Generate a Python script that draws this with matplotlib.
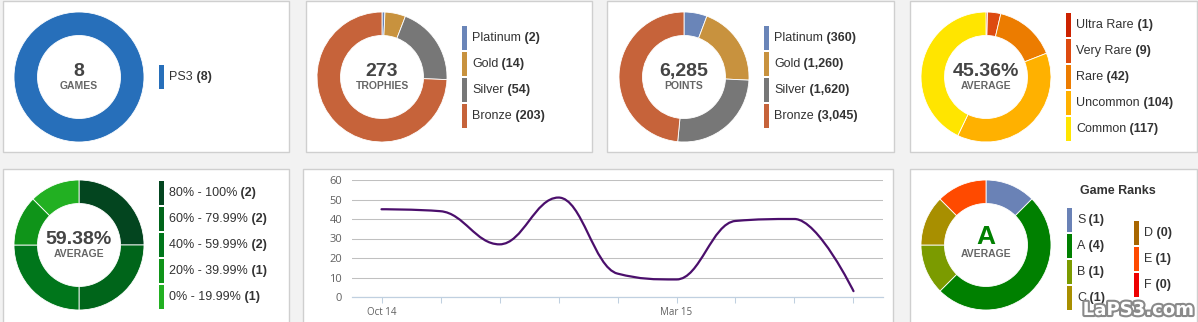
import matplotlib
matplotlib.use("Agg")
import matplotlib.pyplot as plt
from matplotlib.patches import Rectangle, PathPatch
from matplotlib.path import Path
import matplotlib.patheffects as pe

# Data
games_labels = ["PS3"]
games_counts = [8]

trophy_labels = ["Platinum", "Gold", "Silver", "Bronze"]
trophy_counts = [2, 14, 54, 203]
trophy_points = [360, 1260, 1620, 3045]

rarity_labels = ["Ultra Rare", "Very Rare", "Rare", "Uncommon", "Common"]
rarity_counts = [1, 9, 42, 104, 117]
rarity_average = "45.36%"

completion_labels = ["80% - 100%", "60% - 79.99%", "40% - 59.99%", "20% - 39.99%", "0% - 19.99%"]
completion_counts = [2, 2, 2, 1, 1]
completion_average = "59.38%"

rank_labels = ["S", "A", "B", "C", "D", "E", "F"]
rank_counts = [1, 4, 1, 1, 0, 1, 0]
rank_average = "A"

months = ["Oct 14", "Nov 14", "Dec 14", "Jan 15", "Feb 15", "Mar 15", "Apr 15", "May 15", "Jun 15"]
monthly_activity = [45, 44, 27, 51, 12, 9, 39, 40, 3]
shown_months = ["Oct 14", "Mar 15"]

# Colours
games_colors = ["#276fba"]
trophy_colors = ["#6a85b8", "#c8923e", "#777777", "#c6633a"]
rarity_colors = ["#cc2200", "#dd4a10", "#ec7c00", "#ffb100", "#ffe500"]
completion_colors = ["#03451f", "#00651a", "#00761b", "#0f9419", "#22b022"]
rank_colors = ["#6a82b6", "#008000", "#7b9b00", "#a88f00", "#a86600", "#ff4a00", "#ee0000"]

plt.rcParams["font.family"] = ["Liberation Sans", "DejaVu Sans"]

W, H = 1198, 322
fig = plt.figure(figsize=(W / 100, H / 100), dpi=100)
fig.patch.set_facecolor("#f2f2f2")


def rect(x, y, w, h):
    return [x / W, 1 - (y + h) / H, w / W, h / H]


# background layer in pixel coordinates
bg = fig.add_axes([0, 0, 1, 1])
bg.set_xlim(0, W)
bg.set_ylim(H, 0)
bg.axis("off")

panels = [(3, 1, 289, 152), (306, 1, 592, 152), (607, 1, 894, 152), (910, 1, 1197, 152),
          (3, 169, 289, 330), (303, 169, 893, 330), (910, 169, 1197, 330)]
for x0, y0, x1, y1 in panels:
    bg.add_patch(Rectangle((x0 + 1, y0 + 1), x1 - x0, y1 - y0, facecolor="#e4e4e4", edgecolor="none"))
    bg.add_patch(Rectangle((x0, y0), x1 - x0, y1 - y0, facecolor="white", edgecolor="#cfcfcf", lw=1))

R_OUT, R_IN = 65, 41.5


def donut(cx, cy, values, colors, big, small, big_color="#444444", big_size=14, big_dy=-6):
    ax = fig.add_axes(rect(cx - R_OUT, cy - R_OUT, 2 * R_OUT, 2 * R_OUT))
    vals = [v for v in values if v > 0]
    cols = [c for v, c in zip(values, colors) if v > 0]
    ax.pie(vals, colors=cols, startangle=90, counterclock=False, radius=1,
           wedgeprops=dict(width=1 - R_IN / R_OUT, edgecolor="white", linewidth=0.6))
    ax.set_xlim(-1, 1)
    ax.set_ylim(-1, 1)
    ax.axis("off")
    bg.text(cx, cy + big_dy, big, ha="center", va="center", fontsize=big_size,
            fontweight="bold", color=big_color)
    bg.text(cx, cy + 9, small, ha="center", va="center", fontsize=7.5,
            fontweight="bold", color="#666666")


def legend_item(x, y, color, label, count):
    bg.add_patch(Rectangle((x, y), 5, 24, facecolor=color, edgecolor="none"))
    t = bg.text(x + 10, y + 12, label, ha="left", va="center", fontsize=9, color="#333333")
    bg.annotate(" (%s)" % count, xy=(1, 0), xycoords=t, ha="left", va="bottom",
                fontsize=9, fontweight="bold", color="#333333")


def legend(cx, cy, labels, counts, colors):
    n = len(labels)
    top = cy - (n * 26 - 2) / 2
    for i, (lab, c, col) in enumerate(zip(labels, counts, colors)):
        legend_item(cx + 80, top + i * 26, col, lab, "{:,}".format(c))


# Row 1
donut(79, 77, games_counts, games_colors, str(sum(games_counts)), "GAMES")
legend(79, 77, games_labels, games_counts, games_colors)

donut(382, 77, trophy_counts, trophy_colors, str(sum(trophy_counts)), "TROPHIES")
legend(382, 77, trophy_labels, trophy_counts, trophy_colors)

donut(684, 77, trophy_points, trophy_colors, "{:,}".format(sum(trophy_points)), "POINTS")
legend(684, 77, trophy_labels, trophy_points, trophy_colors)

donut(986, 77, rarity_counts, rarity_colors, rarity_average, "AVERAGE")
legend(986, 77, rarity_labels, rarity_counts, rarity_colors)

# Row 2
donut(79, 245, completion_counts, completion_colors, completion_average, "AVERAGE")
legend(79, 245, completion_labels, completion_counts, completion_colors)

donut(986, 245, rank_counts, rank_colors, rank_average, "AVERAGE",
      big_color="#008000", big_size=19, big_dy=-8)
bg.text(1118, 191, "Game Ranks", ha="center", va="center", fontsize=9,
        fontweight="bold", color="#333333")
for i in range(len(rank_labels)):
    if i < 4:
        x, y = 1067, 208 + i * 26
    else:
        x, y = 1134, 221 + (i - 4) * 26
    legend_item(x, y, rank_colors[i], rank_labels[i], rank_counts[i])

# Monthly activity line chart
ax = fig.add_axes(rect(352, 180, 531, 117))
ax.set_xlim(-0.5, len(months) - 0.5)
ax.set_ylim(0, 60)
ax.set_yticks(range(0, 61, 10))
ax.set_xticks(range(len(months)))
ax.set_xticklabels([m if m in shown_months else "" for m in months])
ax.grid(axis="y", color="#c0c0c0", lw=0.75)
ax.set_axisbelow(True)
for s in ["top", "left", "right"]:
    ax.spines[s].set_visible(False)
ax.spines["bottom"].set_color("#c0d0e0")
ax.spines["bottom"].set_linewidth(0.9)
ax.tick_params(axis="y", length=0, pad=7, labelsize=8, labelcolor="#606060")
ax.tick_params(axis="x", length=4, width=0.75, color="#c0d0e0", pad=3,
               labelsize=7, labelcolor="#606060")
for lbl in ax.get_xticklabels() + ax.get_yticklabels():
    lbl.set_family("Open Sans")

# Highcharts-style spline through the monthly values
xs = list(range(len(monthly_activity)))
ys = list(monthly_activity)
smooth = 1.5
right = [None] * len(xs)
left = [None] * len(xs)
for i in range(1, len(xs) - 1):
    px, py = xs[i], ys[i]
    lx, ly = xs[i - 1], ys[i - 1]
    nx, ny = xs[i + 1], ys[i + 1]
    lcx = (smooth * px + lx) / (smooth + 1)
    lcy = (smooth * py + ly) / (smooth + 1)
    rcx = (smooth * px + nx) / (smooth + 1)
    rcy = (smooth * py + ny) / (smooth + 1)
    corr = (rcy - lcy) * (rcx - px) / (rcx - lcx) + py - rcy
    lcy += corr
    rcy += corr
    if lcy > ly and lcy > py:
        lcy = max(ly, py)
        rcy = 2 * py - lcy
    elif lcy < ly and lcy < py:
        lcy = min(ly, py)
        rcy = 2 * py - lcy
    if rcy > ny and rcy > py:
        rcy = max(ny, py)
        lcy = 2 * py - rcy
    elif rcy < ny and rcy < py:
        rcy = min(ny, py)
        lcy = 2 * py - rcy
    left[i] = (lcx, lcy)
    right[i] = (rcx, rcy)

verts = [(xs[0], ys[0])]
codes = [Path.MOVETO]
for i in range(1, len(xs)):
    c1 = right[i - 1] or (xs[i - 1], ys[i - 1])
    c2 = left[i] or (xs[i], ys[i])
    verts += [c1, c2, (xs[i], ys[i])]
    codes += [Path.CURVE4] * 3
ax.add_patch(PathPatch(Path(verts, codes), fill=False, edgecolor="#4b0f6c",
                       lw=1.6, capstyle="round", joinstyle="round"))

bg.text(598, 191, "Monthly Activity", ha="center", va="center", fontsize=10,
        color="#3e576f", family="Open Sans")

# watermark
fig.text(1138 / W, 1 - 310 / H, "LaPS3.com", ha="center", va="center", fontsize=13,
         fontweight="bold", color="white", family="DejaVu Sans",
         path_effects=[pe.withStroke(linewidth=3, foreground="#8a8a8a")])

fig.savefig("out.png", dpi=100, facecolor=fig.get_facecolor())
